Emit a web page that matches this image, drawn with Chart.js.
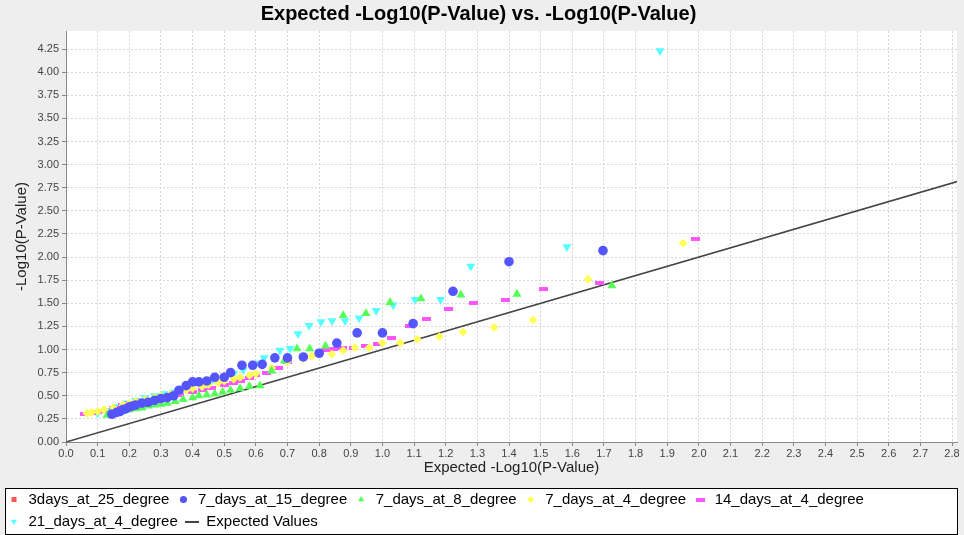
<!DOCTYPE html>
<html>
<head>
<meta charset="utf-8">
<script src="https://cdn.jsdelivr.net/npm/chart.js@4.4.1/dist/chart.umd.min.js"></script>
<style>
  html, body { margin: 0; padding: 0; background: #eeeeee; }
</style>
</head>
<body>
<canvas id="qqChart" width="964" height="535"></canvas>
<script>
// series names (legend order)
const seriesNames = ['3days_at_25_degree', '7_days_at_15_degree', '7_days_at_8_degree',
  '7_days_at_4_degree', '14_days_at_4_degree', '21_days_at_4_degree', 'Expected Values'];

const d3at25X = [];
const d3at25Y = [];

const d7at15X = [0.145, 0.16, 0.17, 0.18, 0.19, 0.20, 0.21, 0.22, 0.24, 0.26, 0.28, 0.30, 0.32, 0.34, 0.357,
  0.38, 0.40, 0.42, 0.445, 0.47, 0.50, 0.52, 0.556, 0.59, 0.62, 0.66, 0.70, 0.75, 0.80, 0.856, 0.92, 1.0,
  1.097, 1.223, 1.40, 1.697];
const d7at15Y = [0.30, 0.32, 0.33, 0.35, 0.36, 0.38, 0.39, 0.40, 0.42, 0.43, 0.45, 0.47, 0.48, 0.50, 0.56,
  0.61, 0.65, 0.65, 0.66, 0.70, 0.70, 0.75, 0.83, 0.83, 0.84, 0.91, 0.91, 0.92, 0.96, 1.07, 1.18, 1.18,
  1.28, 1.63, 1.95, 2.07];

const d7at8X = [0.13, 0.14, 0.16, 0.18, 0.20, 0.22, 0.24, 0.26, 0.28, 0.30, 0.32, 0.345, 0.37, 0.40, 0.42,
  0.445, 0.47, 0.495, 0.52, 0.55, 0.58, 0.613, 0.65, 0.69, 0.73, 0.77, 0.82, 0.876, 0.948, 1.024, 1.122,
  1.248, 1.425, 1.725];
const d7at8Y = [0.29, 0.30, 0.31, 0.33, 0.35, 0.36, 0.37, 0.39, 0.40, 0.41, 0.42, 0.44, 0.46, 0.48, 0.50,
  0.51, 0.52, 0.54, 0.56, 0.58, 0.60, 0.61, 0.77, 0.88, 1.01, 1.01, 1.04, 1.37, 1.39, 1.51, 1.55,
  1.59, 1.60, 1.69];

const d7at4X = [0.066, 0.08, 0.10, 0.12, 0.15, 0.18, 0.20, 0.22, 0.25, 0.28, 0.30, 0.33, 0.35, 0.38, 0.40,
  0.43, 0.45, 0.48, 0.50, 0.53, 0.55, 0.58, 0.60, 0.65, 0.70, 0.75, 0.777, 0.84, 0.876, 0.913, 0.958, 1.0,
  1.056, 1.11, 1.18, 1.255, 1.353, 1.476, 1.65, 1.95];
const d7at4Y = [0.31, 0.32, 0.33, 0.35, 0.37, 0.40, 0.42, 0.44, 0.46, 0.48, 0.50, 0.52, 0.54, 0.56, 0.58,
  0.60, 0.62, 0.64, 0.66, 0.68, 0.70, 0.72, 0.74, 0.80, 0.87, 0.90, 0.93, 0.95, 0.99, 1.02, 1.02, 1.07,
  1.07, 1.11, 1.14, 1.19, 1.24, 1.32, 1.76, 2.15];

const d14at4X = [0.06, 0.08, 0.10, 0.12, 0.15, 0.18, 0.20, 0.23, 0.26, 0.30, 0.33, 0.36, 0.40, 0.43, 0.46,
  0.50, 0.53, 0.55, 0.58, 0.60, 0.635, 0.67, 0.70, 0.75, 0.80, 0.82, 0.845, 0.875, 0.91, 0.945, 0.986,
  1.03, 1.084, 1.14, 1.21, 1.287, 1.39, 1.51, 1.685, 1.99];
const d14at4Y = [0.30, 0.31, 0.32, 0.34, 0.37, 0.40, 0.42, 0.44, 0.45, 0.47, 0.49, 0.51, 0.54, 0.56, 0.58,
  0.62, 0.64, 0.66, 0.69, 0.72, 0.75, 0.80, 0.86, 0.92, 0.97, 1.00, 1.01, 1.02, 1.02, 1.04, 1.06,
  1.12, 1.25, 1.33, 1.44, 1.50, 1.54, 1.66, 1.72, 2.20];

const d21at4X = [0.10, 0.13, 0.16, 0.19, 0.22, 0.25, 0.28, 0.31, 0.34, 0.37, 0.40, 0.43, 0.46, 0.50, 0.53,
  0.56, 0.60, 0.626, 0.676, 0.708, 0.733, 0.768, 0.806, 0.841, 0.882, 0.926, 0.98, 1.034, 1.103, 1.184,
  1.279, 1.583, 1.877];
const d21at4Y = [0.31, 0.34, 0.38, 0.42, 0.45, 0.48, 0.50, 0.52, 0.54, 0.57, 0.60, 0.63, 0.66, 0.70, 0.74,
  0.78, 0.85, 0.91, 0.99, 1.01, 1.17, 1.26, 1.30, 1.31, 1.31, 1.34, 1.42, 1.48, 1.54, 1.54,
  1.90, 2.11, 4.23];

// y = x reference line
const expectedX = [0, 2.82];
const expectedY = [0, 2.82];

const colors = ['#ff5555', '#5555ff', '#55ff55', '#ffff55', '#ff55ff', '#55ffff', '#444444'];

function toPoints(xs, ys) {
  return xs.map((x, i) => ({ x: x, y: ys[i] }));
}

// small canvases used as point styles
function makeRect(w, h, color) {
  const c = document.createElement('canvas');
  c.width = w;
  c.height = h;
  const g = c.getContext('2d');
  g.fillStyle = color;
  g.fillRect(0, 0, w, h);
  return c;
}
const flatRect = makeRect(9, 4, colors[4]);
const lineMark = makeRect(14, 2, colors[6]);

const backdrop = {
  id: 'backdrop',
  beforeDraw(chart) {
    const ctx = chart.ctx;
    const a = chart.chartArea;
    const lg = chart.legend;
    ctx.save();
    ctx.fillStyle = '#eeeeee';
    ctx.fillRect(0, 0, chart.width, chart.height);
    ctx.fillStyle = '#ffffff';
    ctx.fillRect(a.left, a.top, a.right - a.left, a.bottom - a.top);
    const top = lg.top + 3;
    const h = 46;
    ctx.fillRect(5, top, 953, h);
    ctx.strokeStyle = '#000000';
    ctx.lineWidth = 1;
    ctx.strokeRect(5.5, top + 0.5, 952, h);
    ctx.restore();
  }
};

const font = 'Liberation Sans, Arial, sans-serif';

const scatterSet = (i, xs, ys, style, radius, extra) => Object.assign({
  type: 'scatter',
  label: seriesNames[i],
  data: toPoints(xs, ys),
  backgroundColor: colors[i],
  borderColor: colors[i],
  borderWidth: 0,
  pointStyle: style,
  pointRadius: radius
}, extra || {});

new Chart(document.getElementById('qqChart'), {
  type: 'scatter',
  data: {
    datasets: [
      scatterSet(0, d3at25X, d3at25Y, 'rect', 4),
      scatterSet(1, d7at15X, d7at15Y, 'circle', 4.8),
      scatterSet(2, d7at8X, d7at8Y, 'triangle', 5.2),
      scatterSet(3, d7at4X, d7at4Y, 'rectRot', 4.4),
      scatterSet(4, d14at4X, d14at4Y, flatRect, 4),
      scatterSet(5, d21at4X, d21at4Y, 'triangle', 5.2, { pointRotation: 180 }),
      {
        type: 'line',
        label: seriesNames[6],
        data: toPoints(expectedX, expectedY),
        borderColor: colors[6],
        backgroundColor: colors[6],
        borderWidth: 1.6,
        pointRadius: 0,
        pointStyle: lineMark,
        fill: false
      }
    ]
  },
  options: {
    responsive: false,
    animation: false,
    layout: { padding: { left: 0, right: 7, top: 0, bottom: -4 } },
    plugins: {
      tooltip: { enabled: false },
      title: {
        display: true,
        text: 'Expected -Log10(P-Value) vs. -Log10(P-Value)',
        color: '#000000',
        font: { family: font, size: 20, weight: 'bold' },
        padding: { top: 2, bottom: 5 }
      },
      legend: {
        position: 'bottom',
        align: 'start',
        labels: {
          usePointStyle: true,
          boxWidth: 14,
          boxHeight: 5,
          padding: 7,
          color: '#000000',
          font: { family: font, size: 15 }
        }
      }
    },
    scales: {
      x: {
        type: 'linear',
        min: 0,
        max: 2.8158,
        afterFit(scale) { scale.height = 43; },
        ticks: {
          stepSize: 0.1,
          includeBounds: false,
          maxRotation: 0,
          autoSkip: false,
          padding: 1,
          color: '#444444',
          font: { family: font, size: 11 },
          callback: v => Number(v).toFixed(1)
        },
        grid: { color: '#d6d6d6', tickColor: '#888888', tickLength: 4 },
        border: { color: '#888888', dash: [2, 2] },
        title: {
          display: true,
          text: 'Expected -Log10(P-Value)',
          color: '#222222',
          font: { family: font, size: 15 },
          padding: { top: 8, bottom: 8 }
        }
      },
      y: {
        type: 'linear',
        min: 0,
        max: 4.445,
        afterFit(scale) { scale.width = 66; },
        ticks: {
          stepSize: 0.25,
          includeBounds: false,
          padding: 3,
          color: '#444444',
          font: { family: font, size: 11 },
          callback: v => Number(v).toFixed(2)
        },
        grid: { color: '#d6d6d6', tickColor: '#888888', tickLength: 4 },
        border: { color: '#888888', dash: [2, 2] },
        title: {
          display: true,
          text: '-Log10(P-Value)',
          color: '#222222',
          font: { family: font, size: 15 },
          padding: { top: 13, bottom: 0 }
        }
      }
    }
  },
  plugins: [backdrop]
});
</script>
</body>
</html>
